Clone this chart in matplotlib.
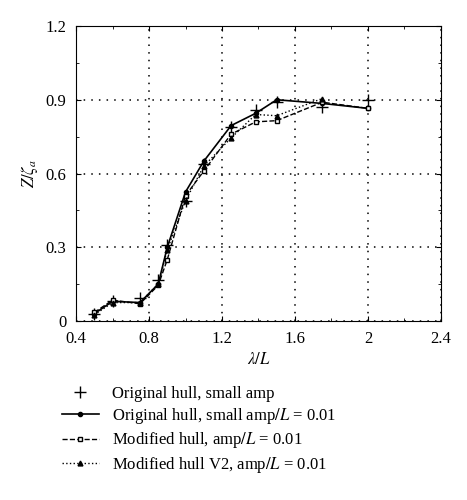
import matplotlib
matplotlib.use("Agg")
import matplotlib.pyplot as plt
from matplotlib.ticker import MultipleLocator

plt.rcParams['font.family'] = ['Liberation Serif', 'DejaVu Serif']
plt.rcParams['mathtext.fontset'] = 'stix'

x = [0.5, 0.6, 0.75, 0.85, 0.9, 1.0, 1.1, 1.25, 1.385, 1.5, 1.75, 2.0]
orig_small = [0.03, 0.08, 0.095, 0.165, 0.31, 0.49, 0.64, 0.79, 0.86, 0.89, 0.87, 0.9]
orig_001 = [0.03, 0.08, 0.075, 0.15, 0.3, 0.525, 0.65, 0.795, 0.845, 0.9, 0.885, 0.865]
mod_001 = [0.035, 0.085, 0.07, 0.145, 0.25, 0.51, 0.61, 0.76, 0.81, 0.815, 0.89, 0.865]
x_v2 = x[:11]
mod_v2 = [0.025, 0.075, 0.075, 0.15, 0.29, 0.49, 0.63, 0.745, 0.84, 0.835, 0.905]
xticks = [0.4, 0.8, 1.2, 1.6, 2.0, 2.4]
xticklabels = ["0.4", "0.8", "1.2", "1.6", "2", "2.4"]
yticks = [0, 0.3, 0.6, 0.9, 1.2]
yticklabels = ["0", "0.3", "0.6", "0.9", "1.2"]

fig = plt.figure(figsize=(4.67, 5.0), dpi=100)
ax = fig.add_axes([0.163, 0.358, 0.781, 0.59])
ax.plot(x, orig_small, ls='none', marker='+', ms=8, color='k', mew=1,
        label='Original hull, small amp')
ax.plot(x, orig_001, '-', marker='o', ms=3, color='k', lw=1.2,
        label='Original hull, small amp$/L$ = 0.01')
ax.plot(x, mod_001, '--', marker='s', ms=3.5, mfc='white', color='k', lw=1,
        label='Modified hull, amp$/L$ = 0.01')
ax.plot(x_v2, mod_v2, ':', marker='^', ms=3.5, color='k', lw=1,
        label='Modified hull V2, amp$/L$ = 0.01')
ax.set_xlim(0.4, 2.4)
ax.set_ylim(0, 1.2)
ax.set_xticks(xticks)
ax.set_xticklabels(xticklabels)
ax.set_yticks(yticks)
ax.set_yticklabels(yticklabels)
ax.xaxis.set_minor_locator(MultipleLocator(0.2))
ax.yaxis.set_minor_locator(MultipleLocator(0.15))
ax.tick_params(which='both', direction='in', top=True, right=True, labelsize=12)
ax.tick_params(axis='x', pad=7)
ax.tick_params(axis='y', pad=7)
ax.grid(True, which='major', ls=(0, (1, 4)), color='k', lw=1.1)
ax.set_xlabel(r'$\lambda/L$', fontsize=12)
ax.set_ylabel(r'$Z/\zeta_a$', fontsize=12)
ax.legend(loc='upper left', bbox_to_anchor=(-0.08, -0.17), frameon=False,
          fontsize=12, handlelength=2.2, labelspacing=0.25)
fig.savefig('out.png', dpi=100)
